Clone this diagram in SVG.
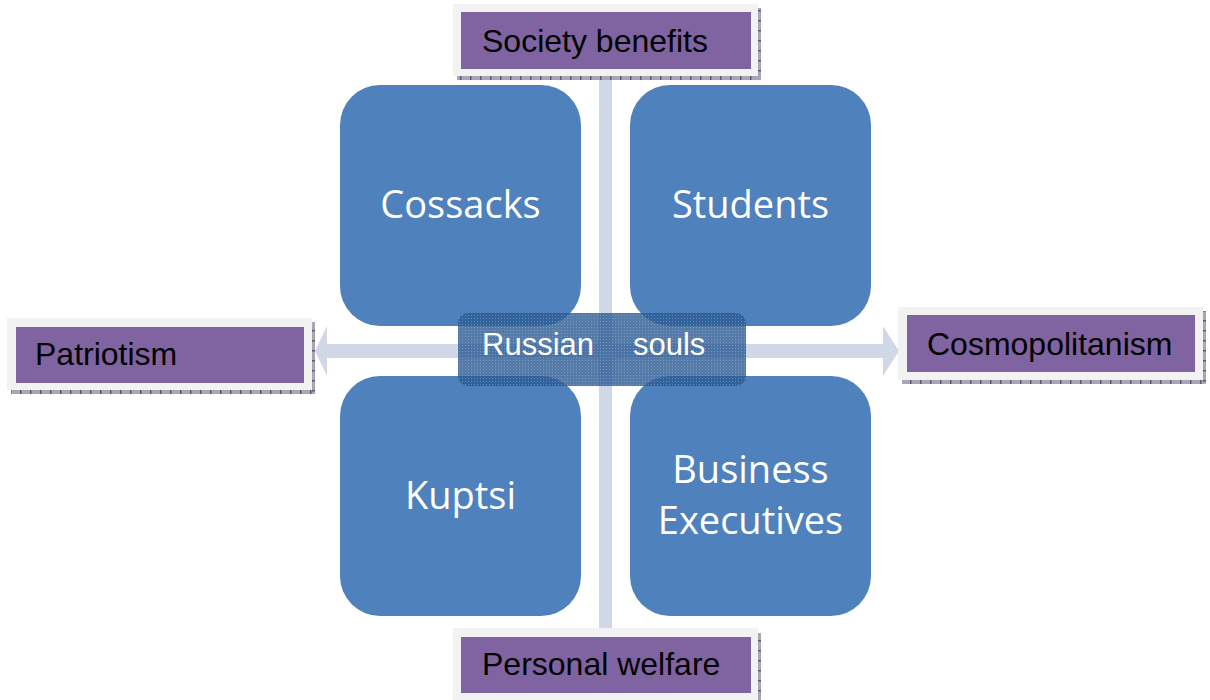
<svg xmlns="http://www.w3.org/2000/svg" width="1210" height="700" viewBox="0 0 1210 700">
<style>
.quad{fill:#4f81bd}
.qt{font-family:"Open Sans","Noto Sans",sans-serif;font-size:38px;fill:#ffffff;text-anchor:middle}
.frame{fill:#f2f2f2}
.purple{fill:#8064a2}
.lt{font-family:"Liberation Sans",Arial,sans-serif;font-size:32px;fill:#000000}
.bar{fill:#d0d8e8}
.ct{font-family:"Liberation Sans",Arial,sans-serif;font-size:31px;fill:#ffffff}
</style>
<defs>
<pattern id="ticks" width="10" height="4" patternUnits="userSpaceOnUse">
<rect width="10" height="4" fill="#a9a5b5"/>
<rect width="1.5" height="4" fill="#5d5870"/>
</pattern>
<pattern id="ticksV" width="4" height="10" patternUnits="userSpaceOnUse">
<rect width="4" height="10" fill="#a9a5b5"/>
<rect width="4" height="1.5" fill="#5d5870"/>
</pattern>
<pattern id="dots" width="3" height="3" patternUnits="userSpaceOnUse">
<rect width="3" height="3" fill="none"/>
<rect width="1" height="1" fill="#9fb6d6" opacity="0.5"/>
</pattern>
</defs>
<rect width="1210" height="700" fill="#ffffff"/>

<g id="connectors">
<rect class="bar" x="599" y="70" width="13" height="565"/>
<rect class="bar" x="326" y="344" width="558" height="14"/>
<polygon class="bar" points="315,351 327,326 327,376"/>
<polygon class="bar" points="899,351 883,326 883,376"/>
</g>

<g id="cossacks">
<rect class="quad" x="340" y="85" width="241" height="241" rx="40"/>
<text class="qt" x="460.5" y="218">Cossacks</text>
</g>
<g id="students">
<rect class="quad" x="630" y="85" width="241" height="241" rx="40"/>
<text class="qt" x="750.5" y="218">Students</text>
</g>
<g id="kuptsi">
<rect class="quad" x="340" y="376" width="241" height="240" rx="40"/>
<text class="qt" x="460.5" y="509">Kuptsi</text>
</g>
<g id="business">
<rect class="quad" x="630" y="376" width="241" height="240" rx="40"/>
<text class="qt" x="750.5" y="483">Business</text>
<text class="qt" x="750.5" y="534">Executives</text>
</g>

<g id="society-benefits">
<rect x="457" y="76" width="304" height="4" fill="url(#ticks)"/>
<rect x="758" y="8" width="3" height="72" fill="url(#ticksV)"/>
<rect class="frame" x="453" y="4" width="305" height="72"/>
<rect class="purple" x="461" y="12" width="290" height="57"/>
<text class="lt" x="482" y="52">Society benefits</text>
</g>

<g id="patriotism">
<rect x="11" y="390" width="304" height="4" fill="url(#ticks)"/>
<rect x="312" y="322" width="3" height="72" fill="url(#ticksV)"/>
<rect class="frame" x="7" y="318" width="305" height="72"/>
<rect class="purple" x="16" y="327" width="288" height="56"/>
<text class="lt" x="35" y="365">Patriotism</text>
</g>

<g id="cosmopolitanism">
<rect x="902" y="380" width="304" height="4" fill="url(#ticks)"/>
<rect x="1203" y="311" width="3" height="73" fill="url(#ticksV)"/>
<rect class="frame" x="898" y="307" width="305" height="73"/>
<rect class="purple" x="907" y="315" width="288" height="57"/>
<text class="lt" x="927" y="355">Cosmopolitanism</text>
</g>

<g id="personal-welfare">
<rect x="758" y="633" width="3" height="67" fill="url(#ticksV)"/>
<rect class="frame" x="453" y="628" width="305" height="72"/>
<rect class="purple" x="461" y="637" width="290" height="56"/>
<text class="lt" x="482" y="675">Personal welfare</text>
</g>

<g id="russian-souls">
<rect x="458" y="313" width="288" height="73" rx="10" fill="#2a5a94" opacity="0.8"/>
<rect x="458" y="313" width="288" height="73" rx="10" fill="url(#dots)"/>
<text class="ct" y="355"><tspan x="482">Russian</tspan><tspan x="633">souls</tspan></text>
</g>
</svg>
